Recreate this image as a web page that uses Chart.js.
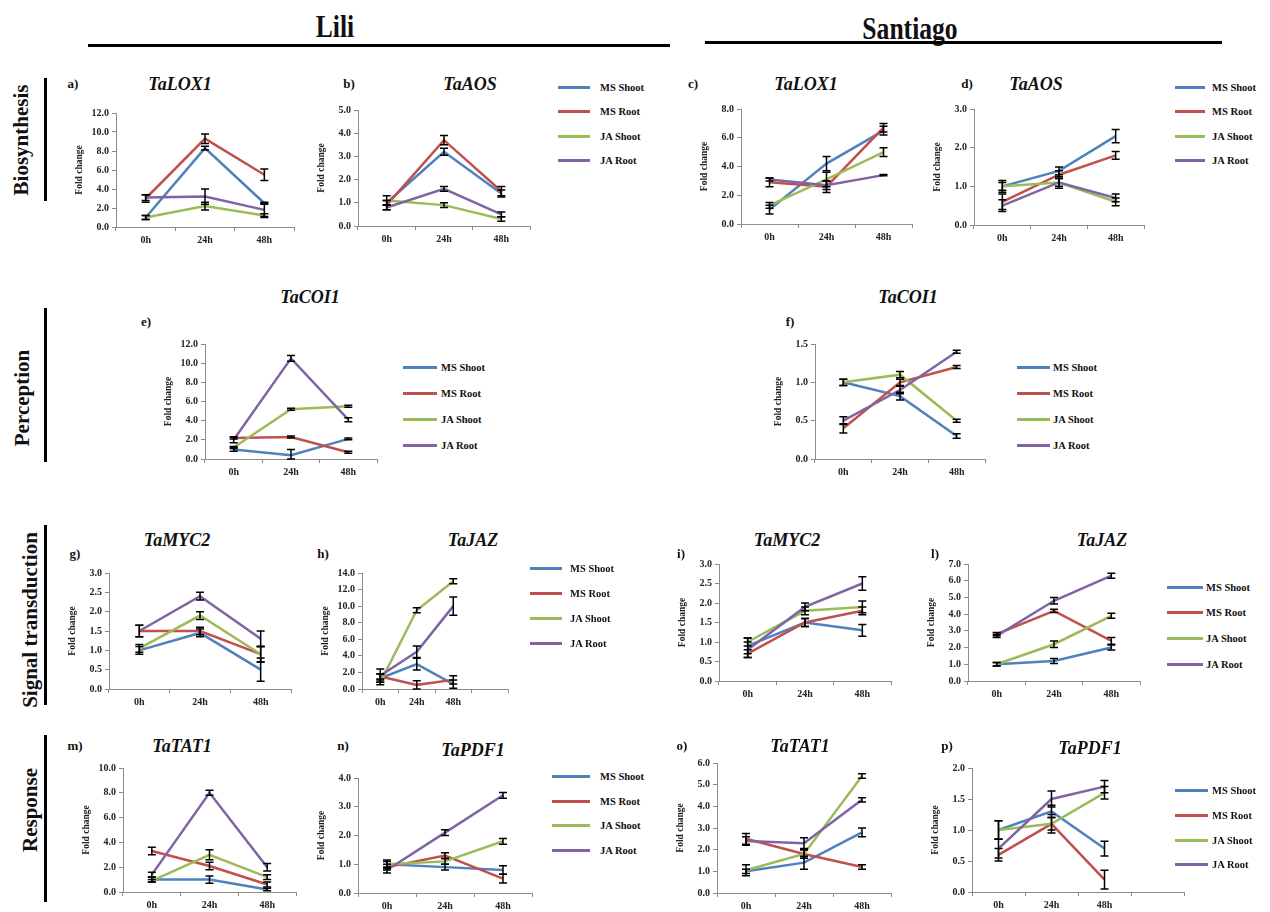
<!DOCTYPE html>
<html>
<head>
<meta charset="utf-8">
<script src="https://cdn.jsdelivr.net/npm/chart.js@4.4.0/dist/chart.umd.min.js"></script>
<style>
body { margin: 0; background: #fff; }
#fig { position: relative; width: 1270px; height: 912px; overflow: hidden;
       font-family: 'Liberation Serif', 'Times New Roman', serif; font-weight: bold; color: #111; }
.t { position: absolute; transform: translate(-50%, -50%); white-space: nowrap; }
.gene { font-size: 18px; font-style: italic; }
.tag { font-size: 13px; }
.row { position: absolute; font-size: 21px; white-space: nowrap; transform: translate(-50%, -50%) rotate(-90deg); }
.bar { position: absolute; background: #000; }
.lg { position: absolute; font-size: 10.5px; white-space: nowrap; transform: translateY(-50%); }
.lgline { position: absolute; height: 3px; }
canvas { position: absolute; }
</style>
</head>
<body>
<div id="fig"></div>
<script>

// categories and series
const hours = ['0h', '24h', '48h'];
const seriesNames = ['MS Shoot', 'MS Root', 'JA Shoot', 'JA Root'];
const seriesColors = ['#4f81bd', '#c0504d', '#9bbb59', '#8064a2'];

// each table: rows = MS Shoot, MS Root, JA Shoot, JA Root ; cols = 0h, 24h, 48h

// a) TaLOX1 - Lili
const lox1Lili    = [[1.0, 8.3, 2.5], [3.0, 9.3, 5.5], [1.0, 2.2, 1.2], [3.1, 3.2, 1.8]];
const lox1LiliErr = [[0.2, 0.2, 0.1], [0.4, 0.5, 0.6], [0.2, 0.4, 0.2], [0.3, 0.8, 0.7]];
// b) TaAOS - Lili
const aosLili     = [[1.0, 3.2, 1.4], [0.9, 3.7, 1.5], [1.1, 0.9, 0.3], [0.8, 1.6, 0.5]];
const aosLiliErr  = [[0.1, 0.15, 0.15], [0.2, 0.2, 0.2], [0.2, 0.1, 0.1], [0.1, 0.1, 0.1]];
// c) TaLOX1 - Santiago
const lox1Sant    = [[1.0, 4.2, 6.5], [2.9, 2.6, 6.7], [1.3, 3.1, 5.0], [3.1, 2.7, 3.4]];
const lox1SantErr = [[0.3, 0.5, 0.3], [0.3, 0.4, 0.3], [0.2, 0.5, 0.3], [0.1, 0.3, 0.05]];
// d) TaAOS - Santiago
const aosSant     = [[1.0, 1.4, 2.3], [0.6, 1.3, 1.8], [1.0, 1.1, 0.6], [0.5, 1.1, 0.7]];
const aosSantErr  = [[0.15, 0.1, 0.17], [0.2, 0.1, 0.1], [0.1, 0.1, 0.1], [0.15, 0.15, 0.1]];
// e) TaCOI1 - Lili
const coi1Lili    = [[1.0, 0.4, 2.1], [2.2, 2.3, 0.7], [1.2, 5.2, 5.5], [2.0, 10.5, 4.1]];
const coi1LiliErr = [[0.2, 0.6, 0.1], [0.1, 0.1, 0.1], [0.1, 0.1, 0.1], [0.3, 0.3, 0.2]];
// f) TaCOI1 - Santiago
const coi1Sant    = [[1.0, 0.82, 0.3], [0.4, 1.0, 1.2], [1.0, 1.1, 0.5], [0.5, 0.9, 1.4]];
const coi1SantErr = [[0.04, 0.05, 0.03], [0.06, 0.04, 0.02], [0.04, 0.04, 0.02], [0.05, 0.05, 0.02]];
// g) TaMYC2 - Lili
const myc2Lili    = [[1.0, 1.45, 0.5], [1.5, 1.5, 0.9], [1.05, 1.9, 0.9], [1.5, 2.4, 1.3]];
const myc2LiliErr = [[0.1, 0.1, 0.3], [0.15, 0.1, 0.2], [0.1, 0.1, 0.2], [0.15, 0.1, 0.2]];
// h) TaJAZ - Lili
const jazLili     = [[1.3, 3.0, 0.6], [1.5, 0.5, 1.1], [0.8, 9.5, 13.0], [1.6, 4.5, 10.0]];
const jazLiliErr  = [[0.5, 0.7, 0.5], [0.3, 0.5, 0.5], [0.3, 0.3, 0.3], [0.8, 0.7, 1.1]];
// i) TaMYC2 - Santiago
const myc2Sant    = [[0.9, 1.5, 1.3], [0.7, 1.5, 1.8], [1.0, 1.8, 1.9], [0.8, 1.9, 2.5]];
const myc2SantErr = [[0.2, 0.1, 0.15], [0.1, 0.1, 0.1], [0.1, 0.1, 0.15], [0.2, 0.1, 0.17]];
// l) TaJAZ - Santiago
const jazSant     = [[1.0, 1.2, 2.0], [2.8, 4.2, 2.4], [1.0, 2.2, 3.9], [2.7, 4.8, 6.3]];
const jazSantErr  = [[0.1, 0.15, 0.15], [0.1, 0.1, 0.2], [0.1, 0.2, 0.15], [0.1, 0.2, 0.15]];
// m) TaTAT1 - Lili
const tat1Lili    = [[1.0, 1.0, 0.2], [3.3, 2.1, 0.6], [0.9, 3.0, 1.2], [1.4, 8.0, 2.0]];
const tat1LiliErr = [[0.2, 0.3, 0.1], [0.3, 0.3, 0.2], [0.1, 0.4, 0.2], [0.2, 0.2, 0.3]];
// n) TaPDF1 - Lili
const pdf1Lili    = [[1.0, 0.9, 0.8], [0.9, 1.3, 0.5], [1.0, 1.1, 1.8], [0.8, 2.1, 3.4]];
const pdf1LiliErr = [[0.15, 0.1, 0.15], [0.1, 0.1, 0.15], [0.1, 0.1, 0.1], [0.1, 0.1, 0.1]];
// o) TaTAT1 - Santiago
const tat1Sant    = [[1.0, 1.4, 2.8], [2.5, 1.8, 1.2], [1.05, 1.8, 5.4], [2.4, 2.3, 4.3]];
const tat1SantErr = [[0.1, 0.3, 0.2], [0.25, 0.2, 0.1], [0.25, 0.2, 0.1], [0.2, 0.25, 0.1]];
// p) TaPDF1 - Santiago
const pdf1Sant    = [[1.0, 1.3, 0.7], [0.6, 1.1, 0.2], [1.0, 1.1, 1.6], [0.7, 1.5, 1.7]];
const pdf1SantErr = [[0.15, 0.1, 0.12], [0.1, 0.15, 0.15], [0.15, 0.1, 0.1], [0.15, 0.13, 0.1]];

// panel layout: box = [axis x, right x, top y, zero y, number of category slots]
const panels = [
  { tag: 'a)', gene: 'TaLOX1', mean: lox1Lili, err: lox1LiliErr, yMax: 12, step: 2, box: [116, 294, 112, 227, 3], title: [180, 84], tagAt: [73, 84] },
  { tag: 'b)', gene: 'TaAOS',  mean: aosLili,  err: aosLiliErr,  yMax: 5,  step: 1, box: [358, 530, 109, 226, 3], title: [470, 84], tagAt: [349, 84] },
  { tag: 'c)', gene: 'TaLOX1', mean: lox1Sant, err: lox1SantErr, yMax: 8,  step: 2, box: [741, 912, 108, 224, 3], title: [806, 84], tagAt: [693, 84] },
  { tag: 'd)', gene: 'TaAOS',  mean: aosSant,  err: aosSantErr,  yMax: 3,  step: 1, box: [974, 1144, 108, 225, 3], title: [1036, 84], tagAt: [967, 84] },
  { tag: 'e)', gene: 'TaCOI1', mean: coi1Lili, err: coi1LiliErr, yMax: 12, step: 2, box: [205, 377, 343, 459, 3], title: [310, 297], tagAt: [146, 322] },
  { tag: 'f)', gene: 'TaCOI1', mean: coi1Sant, err: coi1SantErr, yMax: 1.5, step: 0.5, box: [815, 985, 343, 459, 3], title: [908, 297], tagAt: [790, 322] },
  { tag: 'g)', gene: 'TaMYC2', mean: myc2Lili, err: myc2LiliErr, yMax: 3,  step: 0.5, box: [109, 291, 572, 689, 3], title: [177, 540], tagAt: [75, 554] },
  { tag: 'h)', gene: 'TaJAZ',  mean: jazLili,  err: jazLiliErr,  yMax: 14, step: 2, box: [362, 508, 572, 689, 4], title: [473, 540], tagAt: [323, 554] },
  { tag: 'i)', gene: 'TaMYC2', mean: myc2Sant, err: myc2SantErr, yMax: 3,  step: 0.5, box: [719, 891, 563, 681, 3], title: [787, 540], tagAt: [681, 554] },
  { tag: 'l)', gene: 'TaJAZ',  mean: jazSant,  err: jazSantErr,  yMax: 7,  step: 1, box: [968, 1140, 563, 681, 3], title: [1102, 540], tagAt: [935, 554] },
  { tag: 'm)', gene: 'TaTAT1', mean: tat1Lili, err: tat1LiliErr, yMax: 10, step: 2, box: [123, 296, 767, 892, 3], title: [182, 746], tagAt: [75, 746] },
  { tag: 'n)', gene: 'TaPDF1', mean: pdf1Lili, err: pdf1LiliErr, yMax: 4,  step: 1, box: [358, 532, 777, 893, 3], title: [473, 750], tagAt: [343, 746] },
  { tag: 'o)', gene: 'TaTAT1', mean: tat1Sant, err: tat1SantErr, yMax: 6,  step: 1, box: [717, 891, 762, 893, 3], title: [800, 746], tagAt: [682, 746] },
  { tag: 'p)', gene: 'TaPDF1', mean: pdf1Sant, err: pdf1SantErr, yMax: 2,  step: 0.5, box: [972, 1184, 767, 892, 4], title: [1090, 748], tagAt: [947, 746] }
];

// legends: [line x0, line x1, text x, y of each entry]
const legends = [
  [558, 590, 600, [87, 111, 136, 160]],
  [1175, 1205, 1212, [87, 111, 136, 160]],
  [403, 437, 441, [367, 393, 419, 445]],
  [1017, 1050, 1053, [367, 393, 419, 445]],
  [530, 562, 570, [568, 593, 618, 643]],
  [1167, 1203, 1206, [587, 612, 638, 664]],
  [552, 590, 600, [776, 801, 825, 850]],
  [1175, 1208, 1212, [790, 815, 840, 864]]
];

const fig = document.getElementById('fig');

function addText(cls, txt, x, y, extra) {
  const d = document.createElement('div');
  d.className = cls;
  d.textContent = txt;
  d.style.left = x + 'px';
  d.style.top = y + 'px';
  if (extra) Object.assign(d.style, extra);
  fig.appendChild(d);
  return d;
}

function addBar(x, y, w, h) {
  const d = document.createElement('div');
  d.className = 'bar';
  Object.assign(d.style, { left: x + 'px', top: y + 'px', width: w + 'px', height: h + 'px' });
  fig.appendChild(d);
}

// headers
addText('t', 'Lili', 335, 26, { fontSize: '32px', transform: 'translate(-50%,-50%) scaleX(0.8)' });
addText('t', 'Santiago', 910, 28, { fontSize: '32px', transform: 'translate(-50%,-50%) scaleX(0.8)' });
addBar(88, 44, 582, 3);
addBar(705, 41, 517, 3);

// row labels
addText('row', 'Biosynthesis', 21, 140);
addText('row', 'Perception', 22, 398);
addText('row', 'Signal transduction', 30, 620);
addText('row', 'Response', 30, 810);
addBar(44, 78, 3, 123);
addBar(44, 308, 3, 154);
addBar(44, 525, 3, 180);
addBar(44, 735, 3, 167);

// error bars drawn through the y scale
const errorBars = {
  id: 'errorBars',
  afterDatasetsDraw(chart) {
    const ctx = chart.ctx;
    const y = chart.scales.y;
    ctx.save();
    ctx.strokeStyle = '#000';
    ctx.lineWidth = 1.5;
    chart.data.datasets.forEach((ds, i) => {
      const meta = chart.getDatasetMeta(i);
      meta.data.forEach((pt, j) => {
        const v = ds.data[j];
        if (v == null) return;
        const e = ds.errors[j];
        const top = y.getPixelForValue(v + e);
        const bot = y.getPixelForValue(Math.max(0, v - e));
        const x = pt.x;
        ctx.beginPath();
        ctx.moveTo(x, top); ctx.lineTo(x, bot);
        ctx.moveTo(x - 4, top); ctx.lineTo(x + 4, top);
        ctx.moveTo(x - 4, bot); ctx.lineTo(x + 4, bot);
        ctx.stroke();
      });
    });
    ctx.restore();
  }
};

Chart.defaults.font.family = "'Liberation Serif', 'Times New Roman', serif";
Chart.defaults.font.weight = 'bold';
Chart.defaults.color = '#222';

function makePanel(p) {
  const [ax, rx, ty, by, nCat] = p.box;
  const padL = 42, padR = 10, padT = 8, padB = 22;
  const w = rx - ax + padL + padR;
  const h = by - ty + padT + padB;
  const cv = document.createElement('canvas');
  cv.width = w; cv.height = h;
  cv.style.left = (ax - padL) + 'px';
  cv.style.top = (ty - padT) + 'px';
  cv.style.width = w + 'px';
  cv.style.height = h + 'px';
  fig.appendChild(cv);

  addText('t gene', p.gene, p.title[0], p.title[1]);
  addText('t tag', p.tag, p.tagAt[0], p.tagAt[1]);

  const labels = nCat > 3 ? hours.concat(['']) : hours;

  new Chart(cv, {
    type: 'line',
    data: {
      labels: labels,
      datasets: p.mean.map((m, i) => ({
        label: seriesNames[i],
        data: m,
        errors: p.err[i],
        borderColor: seriesColors[i],
        backgroundColor: seriesColors[i],
        borderWidth: 2.5,
        pointRadius: 0,
        tension: 0,
        fill: false,
        order: 3 - i
      }))
    },
    options: {
      responsive: false,
      animation: false,
      devicePixelRatio: 1,
      layout: { padding: { top: padT, right: padR, left: 0, bottom: 0 } },
      plugins: { legend: { display: false }, tooltip: { enabled: false } },
      scales: {
        x: {
          offset: true,
          grid: { offset: true, drawOnChartArea: false, tickLength: 4, color: '#8c8c8c' },
          border: { color: '#8c8c8c' },
          ticks: { font: { size: 10, weight: 'bold' }, padding: 3, maxRotation: 0, autoSkip: false },
          afterFit: s => { s.height = padB; }
        },
        y: {
          min: 0,
          max: p.yMax,
          grid: { drawOnChartArea: false, tickLength: 4, color: '#8c8c8c' },
          border: { color: '#8c8c8c' },
          ticks: { stepSize: p.step, font: { size: 10, weight: 'bold' }, padding: 3,
                   callback: v => Number(v).toFixed(1) },
          title: { display: true, text: 'Fold change', font: { size: 9.5, weight: 'bold' }, padding: 0 },
          afterFit: s => { s.width = padL; }
        }
      }
    },
    plugins: [errorBars]
  });
}

panels.forEach(makePanel);

// legends
legends.forEach(([x0, x1, tx, ys]) => {
  ys.forEach((y, i) => {
    const line = document.createElement('div');
    line.className = 'lgline';
    Object.assign(line.style, { left: x0 + 'px', top: (y - 1.5) + 'px', width: (x1 - x0) + 'px', background: seriesColors[i] });
    fig.appendChild(line);
    const t = document.createElement('div');
    t.className = 'lg';
    t.textContent = seriesNames[i];
    t.style.left = tx + 'px';
    t.style.top = y + 'px';
    fig.appendChild(t);
  });
});
</script>
</body>
</html>
